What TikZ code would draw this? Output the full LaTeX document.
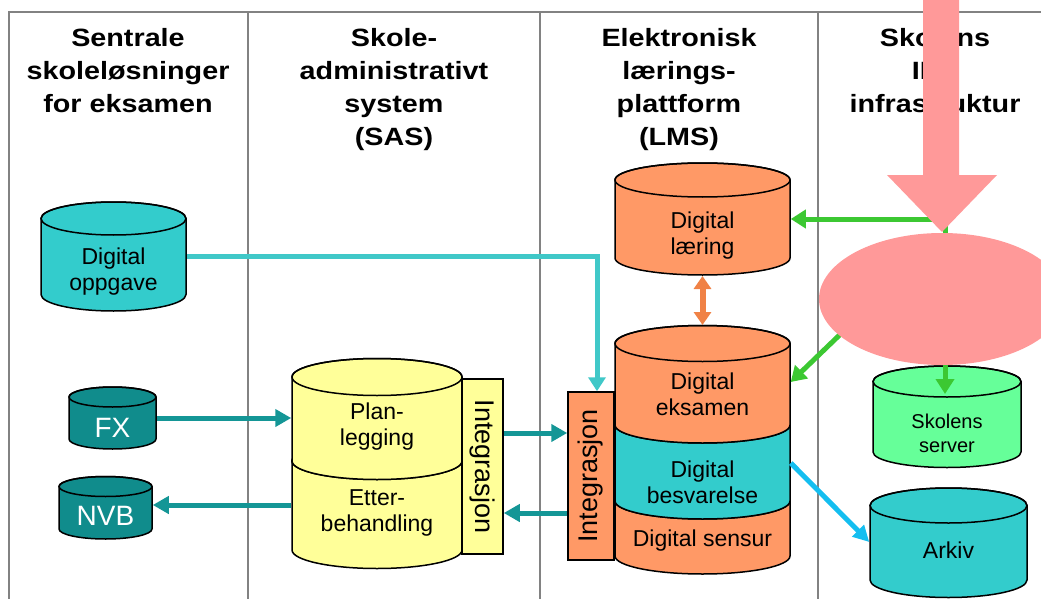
\documentclass[tikz,border=0pt]{standalone}
\usepackage{fontspec}
\setmainfont{Liberation Sans}
\newfontfamily\titlefont{Liberation Sans}[FakeStretch=1.15]
\usetikzlibrary{arrows.meta}

\definecolor{framegray}{RGB}{130,130,130}
\definecolor{cyanfill}{RGB}{51,204,204}
\definecolor{tealfill}{RGB}{16,140,140}
\definecolor{orangefill}{RGB}{255,153,102}
\definecolor{yellowfill}{RGB}{255,255,153}
\definecolor{greenfill}{RGB}{102,255,153}
\definecolor{tealarrow}{RGB}{20,150,150}
\definecolor{cyanarrow}{RGB}{64,200,200}
\definecolor{greenarrow}{RGB}{60,200,50}
\definecolor{orangearrow}{RGB}{240,130,70}
\definecolor{bluearrow}{RGB}{20,190,240}
\definecolor{redact}{RGB}{255,153,153}

\newcommand{\drum}[6]{%
	\filldraw[fill=#6] ({#1-#4},#2) -- ({#1-#4},#3)
		arc[start angle=180, end angle=0, x radius=#4, y radius=#5]
		-- ({#1+#4},#2)
		arc[start angle=0, end angle=-180, x radius=#4, y radius=#5] -- cycle;
	\draw (#1,#2) ellipse[x radius=#4, y radius=#5];
}

\tikzset{
	head/.style={align=center, anchor=north, inner sep=0pt, font=\titlefont\bfseries\fontsize{25}{33}\selectfont},
	lbl/.style={align=center, inner sep=0pt, font=\fontsize{23}{26}\selectfont},
	intbox/.style={draw, line width=1.5pt, inner sep=0pt},
	inttext/.style={inner sep=0pt, font=\fontsize{27}{30}\selectfont},
	conn/.style={line width=5pt, tealarrow, -{Triangle[length=16pt, width=17pt]}},
	thinconn/.style={line width=5pt, cyanarrow, -{Triangle[length=14pt, width=17pt]}},
	greenconn/.style={line width=5pt, greenarrow, -{Triangle[length=15pt, width=18pt]}},
	dblconn/.style={line width=6pt, orangearrow, {Triangle[length=13pt, width=17pt]}-{Triangle[length=13pt, width=17pt]}},
	blueconn/.style={line width=5pt, bluearrow, -{Triangle[length=16pt, width=16pt]}},
}

\begin{document}
\begin{tikzpicture}[x=1pt, y=-1pt, line width=1.5pt]
	\useasboundingbox (0,0) rectangle (1041,599);
	\clip (0,0) rectangle (1041,599);

	\draw[framegray, line width=2pt] (8.5,599) -- (8.5,12.5) -- (1041,12.5);
	\foreach \x in {248,540,818}{
		\draw[framegray, line width=2pt] (\x,12.5) -- (\x,599);
	}

	\node[head] (col-sent) at (128,28) {Sentrale\\skoleløsninger\\for eksamen};
	\node[head] (col-sas) at (394,28) {Skole-\\administrativt\\system\\(SAS)};
	\node[head] (col-lms) at (679,28) {Elektronisk\\lærings-\\plattform\\(LMS)};
	\node[head] (col-ikt) at (935,28) {Skolens\\IKT\\infrastruktur};

	% drums: centre x / top y / bottom y / rx / ry / fill
	\foreach \cx/\yt/\yb/\rx/\ry/\col in {
			113.5/218.5/294.5/72.5/16.5/cyanfill,
			112.5/397/439/43.5/10/tealfill,
			105.5/486.5/529/46.5/10/tealfill,
			377/461/550/85/18.5/yellowfill,
			377/377/461/85/18.5/yellowfill,
			702.5/180/258/87.5/17/orangefill,
			702.5/501/556/87.5/18/orangefill,
			702.5/425/501/87.5/18/cyanfill,
			702.5/343.5/425/87.5/18/orangefill,
			947/381.5/452/74/15.5/greenfill,
			948.5/505.5/580/78.5/17.5/cyanfill}{
		\drum{\cx}{\yt}{\yb}{\rx}{\ry}{\col}
	}

	\node[intbox, fill=yellowfill, minimum width=41, minimum height=175] (sasint) at (482.5,466.5) {};
	\node[inttext, rotate=-90] at (sasint) {Integrasjon};
	\node[intbox, fill=orangefill, minimum width=46, minimum height=168] (lmsint) at (591,476) {};
	\node[inttext, rotate=90] at (lmsint) {Integrasjon};

	\node[lbl, minimum width=145] (oppg) at (113.5,271.5) {Digital\\oppgave};
	\node[lbl, minimum width=87, text=white, font=\fontsize{28}{30}\selectfont] (fx) at (112.5,428) {FX};
	\node[lbl, minimum width=93, text=white, font=\fontsize{28}{30}\selectfont] (nvb) at (105.5,516) {NVB};
	\node[lbl, minimum width=170] (plan) at (377,426.5) {Plan-\\legging};
	\node[lbl, minimum width=170] (etter) at (377,513) {Etter-\\behandling};
	\node[lbl, minimum width=175] (laer) at (702.5,236) {Digital\\læring};
	\node[lbl, minimum width=175] (eks) at (702.5,394) {Digital\\eksamen};
	\node[lbl, minimum width=175] (besv) at (702.5,482) {Digital\\besvarelse};
	\node[lbl, minimum width=175] (sens) at (702.5,540.5) {Digital sensur};
	\node[lbl, minimum width=148, font=\fontsize{20}{24}\selectfont] (serv) at (947,433.5) {Skolens\\server};
	\node[lbl, minimum width=157] (ark) at (948.5,550) {Arkiv};

	\coordinate (oppg-out) at ([yshift=15pt]oppg.east);
	\draw[thinconn] (oppg-out) -| ([xshift=6pt]lmsint.north);
	\coordinate (fx-out) at ([yshift=10pt]fx.east);
	\draw[conn] (fx-out) -- (fx-out -| plan.west);
	\coordinate (etter-out) at ([yshift=8pt]etter.west);
	\draw[conn] (etter-out) -- (etter-out -| nvb.east);
	\coordinate (sas-out) at ([yshift=33.5pt]sasint.east);
	\draw[conn] (sas-out) -- (sas-out -| lmsint.west);
	\coordinate (lms-out) at ([yshift=-37pt]lmsint.west);
	\draw[conn] (lms-out) -- (lms-out -| sasint.east);

	\coordinate (laer-bot) at (702.5,276);
	\coordinate (eks-top) at (702.5,325);
	\draw[dblconn] (laer-bot) -- (eks-top);

	\coordinate (ikt) at (945,300);
	\coordinate (ikt-w) at (878,298);
	\coordinate (laer-in) at ([yshift=17pt]laer.east);
	\coordinate (eks-in) at ([yshift=12pt]eks.east);
	\coordinate (serv-in) at (945,394);
	\draw[greenconn] (ikt) |- (laer-in);
	\draw[greenconn] (ikt-w) -- (eks-in);
	\draw[greenconn] (ikt) -- (serv-in);

	\coordinate (besv-out) at ([yshift=19pt]besv.east);
	\coordinate (ark-in) at ([yshift=8pt]ark.west);
	\draw[blueconn] (besv-out) -- (ark-in);

	\fill[redact] (923,-5) -- (923,175) -- (887,175) -- (942,232) -- (997,175) -- (959,175) -- (959,-5) -- cycle;
	\fill[redact] (942,299) ellipse[x radius=123, y radius=66];
\end{tikzpicture}
\end{document}
